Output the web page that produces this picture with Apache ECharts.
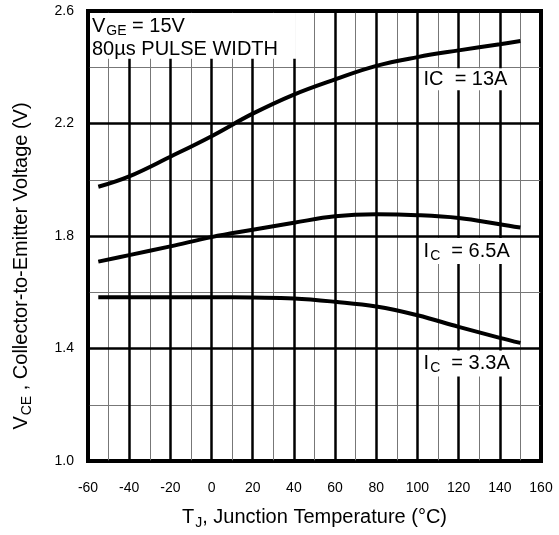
<!DOCTYPE html>
<html>
<head>
<meta charset="utf-8">
<script src="https://cdn.jsdelivr.net/npm/echarts@6/dist/echarts.min.js"></script>
<style>html,body{margin:0;padding:0;background:#fff;}#c{width:559px;height:535px;}</style>
</head>
<body>
<div id="c"></div>
<script>
// Data (Tj in °C, Vce in V)
var temp13 = [-55, -40, -20, 0, 20, 40, 60, 80, 100, 120, 140, 150];
var vce13 = [1.975, 2.012, 2.082, 2.155, 2.235, 2.303, 2.357, 2.405, 2.436, 2.46, 2.482, 2.493];
var temp65 = [-55, -40, -20, 0, 20, 40, 60, 80, 100, 120, 140, 150];
var vce65 = [1.709, 1.732, 1.763, 1.796, 1.822, 1.847, 1.870, 1.877, 1.874, 1.864, 1.842, 1.830];
var temp33 = [-55, -40, -20, 0, 20, 40, 60, 80, 100, 120, 140, 150];
var vce33 = [1.582, 1.582, 1.582, 1.582, 1.581, 1.578, 1.566, 1.549, 1.518, 1.477, 1.438, 1.420];
var xTicks = [-60, -40, -20, 0, 20, 40, 60, 80, 100, 120, 140, 160];
var yTicks = [1.0, 1.4, 1.8, 2.2, 2.6];

function pairs(xs, ys) { return xs.map(function (x, i) { return [x, ys[i]]; }); }

var chart = echarts.init(document.getElementById('c'), null, { renderer: 'canvas' });
var FONT = 'Liberation Sans, Arial, sans-serif';
var lineStyle = { color: '#000', width: 4 };

var option = {
  animation: false,
  backgroundColor: '#fff',
  grid: { left: 88, right: 18, top: 11, bottom: 73, show: true, borderColor: '#000', borderWidth: 4, backgroundColor: 'transparent' },
  xAxis: [
    {
      type: 'value', min: xTicks[0], max: xTicks[xTicks.length - 1], interval: 20,
      axisLine: { show: false }, axisTick: { show: false },
      axisLabel: { margin: 20, fontFamily: FONT, fontSize: 14, color: '#000' },
      splitLine: { show: true, lineStyle: { color: '#000', width: 2.5 } },
      name: '{n|T}{s|J}{n|, Junction Temperature (°C)}',
      nameLocation: 'middle', nameGap: 43,
      nameTextStyle: {
        rich: {
          n: { fontFamily: FONT, fontSize: 20, color: '#000' },
          s: { fontFamily: FONT, fontSize: 14, color: '#000', padding: [12, 0, 0, 1] }
        }
      },
      z: 3
    },
    {
      type: 'value', min: xTicks[0], max: xTicks[xTicks.length - 1], interval: 10, position: 'top',
      axisLine: { show: false }, axisTick: { show: false }, axisLabel: { show: false },
      splitLine: { show: true, lineStyle: { color: '#777', width: 1 } },
      z: 1
    }
  ],
  yAxis: [
    {
      type: 'value', min: yTicks[0], max: yTicks[yTicks.length - 1], interval: 0.4,
      axisLine: { show: false }, axisTick: { show: false },
      axisLabel: { margin: 14, fontFamily: FONT, fontSize: 14, color: '#000', formatter: function (v) { return v.toFixed(1); } },
      splitLine: { show: true, lineStyle: { color: '#000', width: 2.5 } },
      name: '{n|V}{s|CE}{n| , Collector-to-Emitter Voltage (V)}',
      nameLocation: 'middle', nameGap: 54, nameRotate: 90,
      nameTextStyle: {
        padding: [0, 60, 0, 0],
        rich: {
          n: { fontFamily: FONT, fontSize: 20, color: '#000' },
          s: { fontFamily: FONT, fontSize: 14, color: '#000', padding: [12, 0, 0, 1] }
        }
      },
      z: 3
    },
    {
      type: 'value', min: yTicks[0], max: yTicks[yTicks.length - 1], interval: 0.2, position: 'right',
      axisLine: { show: false }, axisTick: { show: false }, axisLabel: { show: false },
      splitLine: { show: true, lineStyle: { color: '#777', width: 1 } },
      z: 1
    }
  ],
  series: [
    { type: 'line', data: pairs(temp13, vce13), smooth: 0.4, showSymbol: false, lineStyle: lineStyle, z: 5 },
    { type: 'line', data: pairs(temp65, vce65), smooth: 0.4, showSymbol: false, lineStyle: lineStyle, z: 5 },
    { type: 'line', data: pairs(temp33, vce33), smooth: 0.4, showSymbol: false, lineStyle: lineStyle, z: 5 }
  ]
};
chart.setOption(option);

// annotations anchored in data coordinates
function px(x, y) { return chart.convertToPixel({ xAxisIndex: 0, yAxisIndex: 0 }, [x, y]); }
var tl = px(-60, 2.6);
var br = px(41, 2.43);
var a13 = px(101, 2.4);
var a65 = px(102, 1.8);
var a33 = px(102, 1.4);
var noteRich = {
  n: { fontFamily: FONT, fontSize: 20, color: '#000' },
  s: { fontFamily: FONT, fontSize: 14, color: '#000', padding: [10, 0, 0, 1] }
};
chart.setOption({
  graphic: [
    { type: 'rect', z: 50, shape: { x: tl[0] + 2, y: tl[1] + 2, width: br[0] - tl[0] - 2, height: br[1] - tl[1] - 2 }, style: { fill: '#fff' } },
    { type: 'text', z: 51, x: tl[0] + 4, y: tl[1] + 3, style: { text: '{n|V}{s|GE}{n| = 15V}', rich: noteRich } },
    { type: 'text', z: 51, x: tl[0] + 4, y: tl[1] + 28, style: { text: '80µs PULSE WIDTH', font: '20px ' + FONT, fill: '#000' } },
    { type: 'text', z: 51, x: a13[0] + 2, y: a13[1] + 1, style: { text: 'IC  = 13A', font: '20px ' + FONT, fill: '#000', backgroundColor: '#fff', padding: [1, 2, 1, 2] } },
    { type: 'text', z: 51, x: a65[0], y: a65[1] + 2, style: { text: '{n|I}{s|C}{n|  = 6.5A}', rich: noteRich, backgroundColor: '#fff', padding: [1, 2, 1, 2] } },
    { type: 'text', z: 51, x: a33[0], y: a33[1] + 2, style: { text: '{n|I}{s|C}{n|  = 3.3A}', rich: noteRich, backgroundColor: '#fff', padding: [1, 2, 1, 2] } }
  ]
});
</script>
</body>
</html>
